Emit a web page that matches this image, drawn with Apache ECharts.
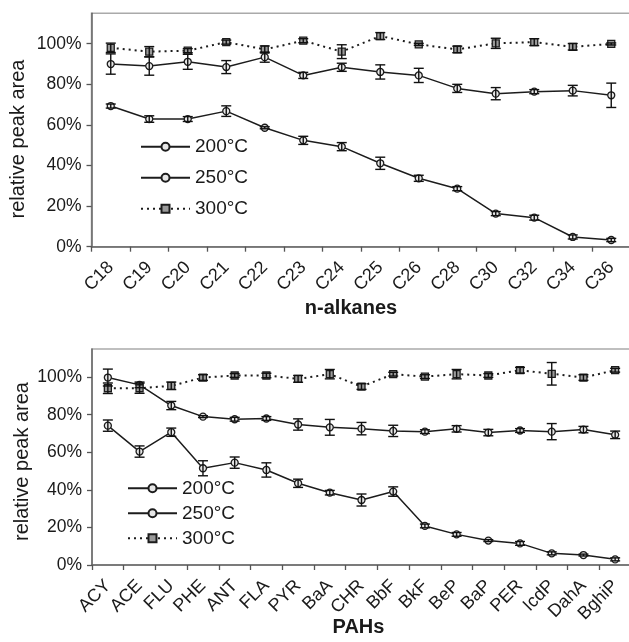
<!DOCTYPE html>
<html>
<head>
<meta charset="utf-8">
<script src="https://cdn.jsdelivr.net/npm/echarts@6/dist/echarts.min.js"></script>
<style>html,body{margin:0;padding:0;background:#fff;}#c{width:629px;height:642px;}</style>
</head>
<body>
<div id="c"></div>
<script>
// ---- data ----
const alkCats = ['C18','C19','C20','C21','C22','C23','C24','C25','C26','C28','C30','C32','C34','C36'];
const alk200 = [69.3, 62.9, 62.9, 66.8, 58.6, 52.4, 49.3, 41.1, 33.7, 28.6, 16.3, 14.3, 4.8, 3.3];
const alk200Err = [1, 1.6, 1.2, 2.6, 0.5, 2, 2, 3, 1.5, 1, 1, 1.2, 1, 0.8];
const alk250 = [90.0, 89.0, 91.1, 88.5, 93.4, 84.4, 88.4, 86.1, 84.4, 78.0, 75.4, 76.4, 76.9, 74.6];
const alk250Err = [5, 4.5, 3.7, 3.2, 2.5, 1.5, 2, 3.5, 3.5, 2, 3, 1, 2.6, 6];
const alk300 = [98.0, 96.1, 96.6, 100.8, 97.2, 101.5, 96.1, 103.8, 99.7, 97.2, 100.2, 100.8, 98.5, 99.9];
const alk300Err = [2.3, 2.5, 1, 1, 1.7, 1, 3.4, 1.7, 0.5, 1.6, 2.5, 1.7, 1.6, 0.5];

const pahCats = ['ACY','ACE','FLU','PHE','ANT','FLA','PYR','BaA','CHR','BbF','BkF','BeP','BaP','PER','IcdP','DahA','BghiP'];
const pah200 = [74.2, 60.4, 70.7, 51.5, 54.5, 50.6, 43.5, 38.5, 34.6, 39.1, 20.8, 16.3, 13.0, 11.5, 6.2, 5.3, 3.0];
const pah200Err = [3, 3, 2.2, 4, 3, 3.8, 2.2, 1.2, 3.2, 2.5, 1, 1, 0.5, 1, 0.8, 0.5, 0.8];
const pah250 = [99.8, 95.9, 84.9, 79.0, 77.6, 78.0, 74.8, 73.3, 72.6, 71.4, 71.0, 72.5, 70.5, 71.6, 71.0, 72.1, 69.3];
const pah250Err = [4.5, 1.5, 2.2, 0.5, 1, 1, 3, 4.2, 3.3, 3, 1, 1.7, 1.7, 1, 4.3, 1.7, 2];
const pah300 = [94.1, 94.1, 95.4, 99.8, 100.9, 100.9, 99.1, 101.6, 95.0, 101.6, 100.3, 101.6, 100.9, 103.7, 101.8, 99.8, 103.7];
const pah300Err = [2.8, 2.7, 2, 1.5, 1, 1.2, 1.8, 2.5, 1.5, 1, 1, 2.5, 1, 1.5, 6, 1.5, 1];

const seriesNames = ['200°C', '250°C', '300°C'];
const yTicks = [0, 20, 40, 60, 80, 100];
const yMax = 115;

// ---- chart ----
const FONT = "'Liberation Sans', Arial, Helvetica, sans-serif";
const INK = '#1a1a1a';
const chart = echarts.init(document.getElementById('c'), null, {renderer: 'canvas'});

function lineSeries(name, data, idx, dotted) {
  return {
    name: name, type: 'line', xAxisIndex: idx, yAxisIndex: idx, data: data,
    symbol: dotted ? 'rect' : 'circle', symbolSize: 7,
    itemStyle: {color: dotted ? '#9a9a9a' : '#e6e6e6', borderColor: '#1c1c1c', borderWidth: 1.3},
    lineStyle: {color: '#1c1c1c', width: dotted ? 2 : 1.5, type: dotted ? [2, 4] : 'solid'},
    z: 3, animation: false
  };
}
function errSeries(vals, errs, idx) {
  return {
    type: 'custom', xAxisIndex: idx, yAxisIndex: idx,
    data: vals.map((v, i) => [i, v - errs[i], v + errs[i]]),
    encode: {x: 0, y: [1, 2]},
    renderItem: function (params, api) {
      const x = api.value(0);
      const top = api.coord([x, api.value(2)]);
      const bot = api.coord([x, api.value(1)]);
      const hw = 5;
      const st = {stroke: '#111', lineWidth: 1.4};
      return {type: 'group', children: [
        {type: 'line', shape: {x1: top[0], y1: top[1], x2: bot[0], y2: bot[1]}, style: st},
        {type: 'line', shape: {x1: top[0] - hw, y1: top[1], x2: top[0] + hw, y2: top[1]}, style: st},
        {type: 'line', shape: {x1: bot[0] - hw, y1: bot[1], x2: bot[0] + hw, y2: bot[1]}, style: st}
      ]};
    },
    z: 4, silent: true, animation: false
  };
}
function xAxis(cats, idx, name, namePad) {
  return {
    type: 'category', gridIndex: idx, data: cats, boundaryGap: true,
    name: name, nameLocation: 'middle', nameGap: 52, nameMoveOverlap: false,
    nameTextStyle: {fontFamily: FONT, fontSize: 20, fontWeight: 'bold', color: INK, padding: namePad},
    axisLine: {lineStyle: {color: '#666', width: 1.5}},
    axisTick: {show: true, length: 5, lineStyle: {color: '#555', width: 1.3}},
    axisLabel: {rotate: 45, interval: 0, margin: 18, fontFamily: FONT, fontSize: 18, color: INK},
    splitLine: {show: false}
  };
}
function yAxis(idx, gap, namePad) {
  return {
    type: 'value', gridIndex: idx, min: 0, max: yMax, interval: 20,
    name: 'relative peak area', nameLocation: 'middle', nameGap: gap, nameRotate: 90, nameMoveOverlap: false,
    nameTextStyle: {fontFamily: FONT, fontSize: 20, color: INK, padding: namePad},
    axisLine: {show: true, lineStyle: {color: '#666', width: 1.5}},
    axisTick: {show: true, length: 5, customValues: yTicks, lineStyle: {color: '#555', width: 1.3}},
    axisLabel: {customValues: yTicks, margin: 10, fontFamily: FONT, fontSize: 17.5, color: INK,
      formatter: v => (v <= 100 ? v + '%' : '')},
    splitLine: {show: false}
  };
}
function legend(left, top, gap) {
  return {
    orient: 'vertical', left: left, top: top, padding: 0, itemGap: gap,
    itemWidth: 49, itemHeight: 10, data: seriesNames, selectedMode: false,
    textStyle: {fontFamily: FONT, fontSize: 19, color: INK, lineHeight: 20}
  };
}

const option = {
  backgroundColor: '#fff',
  animation: false,
  grid: [
    {left: 91.5, top: 13.3, width: 539, height: 233.4, show: true, borderColor: '#aaa', borderWidth: 1.5,
     containLabel: false, outerBoundsMode: 'none'},
    {left: 92, top: 349, width: 539, height: 216, show: true, borderColor: '#aaa', borderWidth: 1.5,
     containLabel: false, outerBoundsMode: 'none'}
  ],
  legend: [legend(140, 136.7, 11), legend(127, 478.3, 5)],
  xAxis: [xAxis(alkCats, 0, 'n-alkanes', [0, 20, 0, 0]), xAxis(pahCats, 1, 'PAHs', [0, 6, 0, 0])],
  yAxis: [yAxis(0, 63, [0, 18, 0, 0]), yAxis(1, 60, [0, 9, 0, 0])],
  series: [
    lineSeries(seriesNames[0], alk200, 0, false),
    lineSeries(seriesNames[1], alk250, 0, false),
    lineSeries(seriesNames[2], alk300, 0, true),
    errSeries(alk200, alk200Err, 0),
    errSeries(alk250, alk250Err, 0),
    errSeries(alk300, alk300Err, 0),
    lineSeries(seriesNames[0], pah200, 1, false),
    lineSeries(seriesNames[1], pah250, 1, false),
    lineSeries(seriesNames[2], pah300, 1, true),
    errSeries(pah200, pah200Err, 1),
    errSeries(pah250, pah250Err, 1),
    errSeries(pah300, pah300Err, 1)
  ]
};
chart.setOption(option);
</script>
</body>
</html>
